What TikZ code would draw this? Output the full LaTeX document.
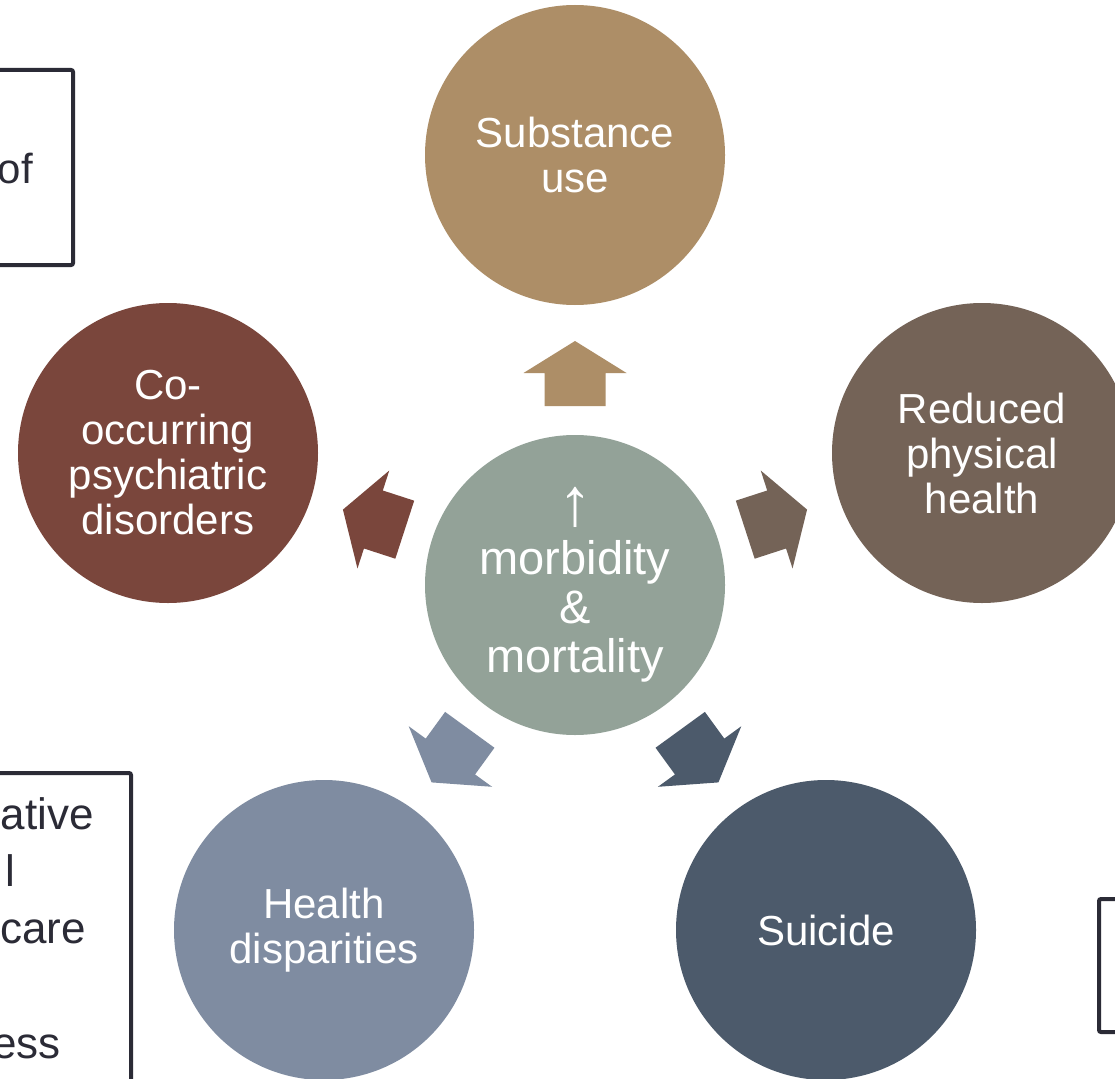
\documentclass[tikz,border=0pt]{standalone}
\usepackage{fontspec}
\setmainfont{Liberation Sans}
\definecolor{cTan}{HTML}{AD8E67}
\definecolor{cRust}{HTML}{7A463C}
\definecolor{cBrown}{HTML}{746357}
\definecolor{cSlate}{HTML}{7F8CA1}
\definecolor{cNavy}{HTML}{4C5A6B}
\definecolor{cSage}{HTML}{93A298}
\definecolor{cInk}{HTML}{2B2B36}
\begin{document}
\begin{tikzpicture}[x=1pt,y=-1pt,
  bubble/.style={circle, minimum size=300pt, inner sep=0pt, text=white,
    align=center, font=\fontsize{42}{45}\selectfont},
  hubstyle/.style={bubble, font=\fontsize{47}{49}\selectfont},
  sidebox/.style={draw=cInk, line width=4pt, rounded corners=2pt},
  boxtext/.style={text=cInk, inner sep=0pt, anchor=base east,
    font=\fontsize{44}{56}\selectfont}
]
\useasboundingbox (0,0) rectangle (1115,1078);
\clip (0,0) rectangle (1115,1078);
\fill[white] (0,0) rectangle (1115,1078);

% partly hidden text boxes at the sides
\draw[sidebox] (-20,70) rectangle (73,265);
\node[boxtext, font=\fontsize{42}{56}\selectfont] (tOf) at (33,183) {of};
\draw[sidebox] (-20,773) rectangle (131,1100);
\node[boxtext] (tAtive) at (94,829) {ative};
\node[boxtext] (tL) at (15,886) {l};
\node[boxtext] (tCare) at (86,943) {care};
\node[boxtext] (tEss) at (61,1058) {ess};
\draw[sidebox] (1099,899) rectangle (1140,1032);

% hub and surrounding outcomes
\node[hubstyle, fill=cSage] (hub) at (575,585)
  {{\fontsize{68}{49}\selectfont ↑}\\morbidity\\\&\\mortality};
\node[bubble, fill=cTan] (sub) at (575,155) {Substance\\use};
\node[bubble, fill=cRust] (cooc) at (168,453) {Co-\\occurring\\psychiatric\\disorders};
\node[bubble, fill=cBrown] (phys) at (982,453) {Reduced\\physical\\health};
\node[bubble, fill=cSlate] (disp) at (324,930) {Health\\disparities};
\node[bubble, fill=cNavy] (suic) at (826,930) {Suicide};

% block arrows radiating from the hub
\foreach \ang/\col in {90/cTan, 162/cRust, 18/cBrown, 234/cSlate, 306/cNavy}{
  \fill[\col, shift={(hub.center)}, rotate=\ang]
    (179,-30.5) -- (212,-30.5) -- (212,-51.5) -- (244,0)
    -- (212,51.5) -- (212,30.5) -- (179,30.5) -- cycle;
}
\end{tikzpicture}
\end{document}
